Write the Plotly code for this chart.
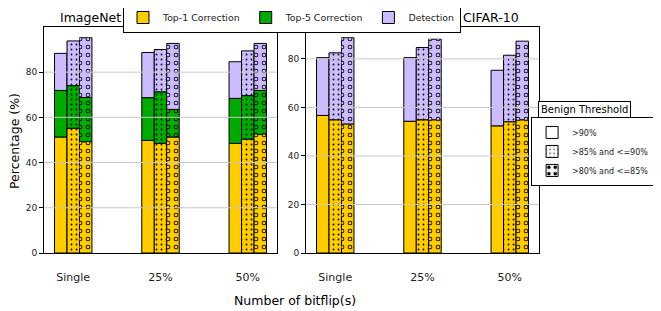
import numpy as np
import plotly.graph_objects as go

groups = ["Single", "25%", "50%"]
thresholds = [">90%", ">85% and &lt;=90%", ">80% and &lt;=85%"]
categories = ["Top-1 Correction", "Top-5 Correction", "Detection"]
y_ticks = [0, 20, 40, 60, 80]

# values per threshold (rows) and bitflip group (columns), in %
imagenet_top1 = [[51.3, 49.8, 48.5], [55.2, 48.5, 50.4], [49.2, 51.3, 52.4]]
imagenet_top5 = [[20.6, 18.9, 19.9], [18.8, 22.8, 19.2], [19.6, 12.2, 19.5]]
imagenet_det = [[16.4, 20.0, 16.2], [19.8, 18.7, 19.8], [26.4, 29.2, 20.8]]

cifar_top1 = [[56.7, 54.3, 52.4], [54.9, 54.9, 54.1], [53.2, 54.9, 54.9]]
cifar_top5 = [[0.0, 0.0, 0.0], [0.0, 0.0, 0.0], [0.0, 0.0, 0.0]]
cifar_det = [[23.8, 26.2, 22.9], [27.6, 29.8, 27.4], [35.5, 33.2, 32.4]]

COLORS = ["#FFCC00", "#00AA00", "#CCBBFF"]
W = 0.143
FONT = "DejaVu Sans"
TXT = "#222222"

fig = go.Figure()

panels = [
    ("x", "y", [imagenet_top1, imagenet_top5, imagenet_det]),
    ("x2", "y2", [cifar_top1, cifar_top5, cifar_det]),
]

ymax = []
for pi, (xa, ya, series) in enumerate(panels):
    overlays = []
    top = 0
    for t in range(3):
        base = np.zeros(len(groups))
        xpos = np.arange(len(groups)) + (t - 1) * W
        for c in range(3):
            vals = np.array(series[c][t], dtype=float)
            if np.all(vals == 0):
                continue
            if t == 0:
                pattern = dict(shape="")
            elif t == 1:
                pattern = dict(shape=".", fgcolor="black", bgcolor=COLORS[c],
                               fillmode="replace", size=5, solidity=0.1)
            else:
                pattern = dict(shape=".", fgcolor="black", bgcolor=COLORS[c],
                               fillmode="replace", size=8, solidity=0.26)
            fig.add_trace(go.Bar(
                x=xpos, y=vals, base=base, width=W, xaxis=xa, yaxis=ya,
                name=categories[c], legendgroup=categories[c],
                showlegend=(pi == 0 and t == 0),
                marker=dict(color=COLORS[c], line=dict(color="black", width=1),
                            pattern=pattern),
            ))
            if t == 2:
                overlays.append(dict(x=xpos, y=vals, base=base.copy(), c=c))
            base = base + vals
        top = max(top, base.max())
    for o in overlays:
        fig.add_trace(go.Bar(
            x=o["x"], y=o["y"], base=o["base"], width=W, xaxis=xa, yaxis=ya,
            showlegend=False, hoverinfo="skip",
            marker=dict(color="rgba(0,0,0,0)", line=dict(width=0),
                        pattern=dict(shape=".", fgcolor=COLORS[o["c"]],
                                     fillmode="replace", size=8, solidity=0.11)),
        ))
    ymax.append(top * 1.05)

# legend entries for thresholds
leg_patterns = [
    dict(shape=""),
    dict(shape=".", fgcolor="black", bgcolor="white", fillmode="replace", size=5, solidity=0.1),
    dict(shape=".", fgcolor="black", bgcolor="white", fillmode="replace", size=8, solidity=0.26),
]
for t in range(3):
    fig.add_trace(go.Bar(
        x=[None], y=[None], name=thresholds[t], legend="legend2",
        marker=dict(color="white", line=dict(color="black", width=1),
                    pattern=leg_patterns[t]),
    ))

axis_common = dict(
    showline=True, mirror=True, linecolor="black", linewidth=1,
    showgrid=False, zeroline=False,
)
fig.update_layout(
    width=653, height=303,
    margin=dict(l=36, r=122, t=19, b=58, autoexpand=False),
    paper_bgcolor="white", plot_bgcolor="white",
    barmode="overlay",
    font=dict(family=FONT, color=TXT),
    xaxis=dict(domain=[0, 0.4707], range=[-0.335, 2.335], anchor="y",
               tickvals=[0, 1, 2], ticktext=groups, ticks="outside",
               ticklen=14, tickcolor="rgba(0,0,0,0)",
               tickfont=dict(size=11, color=TXT), **axis_common),
    yaxis=dict(domain=[0, 1], range=[0, ymax[0]], anchor="x",
               tickvals=y_ticks, ticks="outside", ticklen=4, tickcolor="black",
               tickfont=dict(size=9, color=TXT), **axis_common),
    xaxis2=dict(domain=[0.5293, 1], range=[-0.335, 2.335], anchor="y2",
                tickvals=[0, 1, 2], ticktext=groups, ticks="outside",
                ticklen=14, tickcolor="rgba(0,0,0,0)",
                tickfont=dict(size=11, color=TXT), **axis_common),
    yaxis2=dict(domain=[0, 1], range=[0, ymax[1]], anchor="x2",
                tickvals=y_ticks, ticks="outside", ticklen=4, tickcolor="black",
                tickfont=dict(size=9, color=TXT), **axis_common),
    legend=dict(orientation="h", x=0.1596, y=1.042, xanchor="left", yanchor="middle",
                bordercolor="black", borderwidth=1, bgcolor="white",
                font=dict(size=9.4, color=TXT), tracegroupgap=0,
                itemclick=False),
    legend2=dict(x=0.984, y=0.602, xanchor="left", yanchor="top",
                 bordercolor="black", borderwidth=1, bgcolor="white",
                 font=dict(size=8, color=TXT), tracegroupgap=0),
)

shapes = []
for ya in ["y", "y2"]:
    xd = "x domain" if ya == "y" else "x2 domain"
    for v in y_ticks[1:]:
        shapes.append(dict(type="line", xref=xd, yref=ya, x0=0, x1=1, y0=v, y1=v,
                           line=dict(color="#c8c8c8", width=1), layer="above"))
fig.update_layout(shapes=shapes)

fig.add_annotation(text="ImageNet", xref="paper", yref="paper", x=0.0943, y=1.043,
                   showarrow=False, font=dict(size=12.5, color="black"),
                   xanchor="center", yanchor="middle")
fig.add_annotation(text="CIFAR-10", xref="paper", yref="paper", x=0.9036, y=1.043,
                   showarrow=False, font=dict(size=12.5, color="black"),
                   xanchor="center", yanchor="middle")
fig.add_annotation(text="Percentage (%)", xref="paper", yref="paper", x=-0.0586, y=0.4956,
                   showarrow=False, textangle=-90, font=dict(size=12.5, color="black"),
                   xanchor="center", yanchor="middle")
fig.add_annotation(text="Number of bitflip(s)", xref="paper", yref="paper", x=0.507, y=-0.212,
                   showarrow=False, font=dict(size=12.5, color="black"),
                   xanchor="center", yanchor="middle")
fig.add_annotation(text="Benign Threshold", xref="paper", yref="paper", x=0.998, y=0.637,
                   showarrow=False, font=dict(size=10, color="black"),
                   xanchor="left", yanchor="middle", bordercolor="black",
                   borderwidth=1, borderpad=2, bgcolor="white")

fig.write_html("out.html")
